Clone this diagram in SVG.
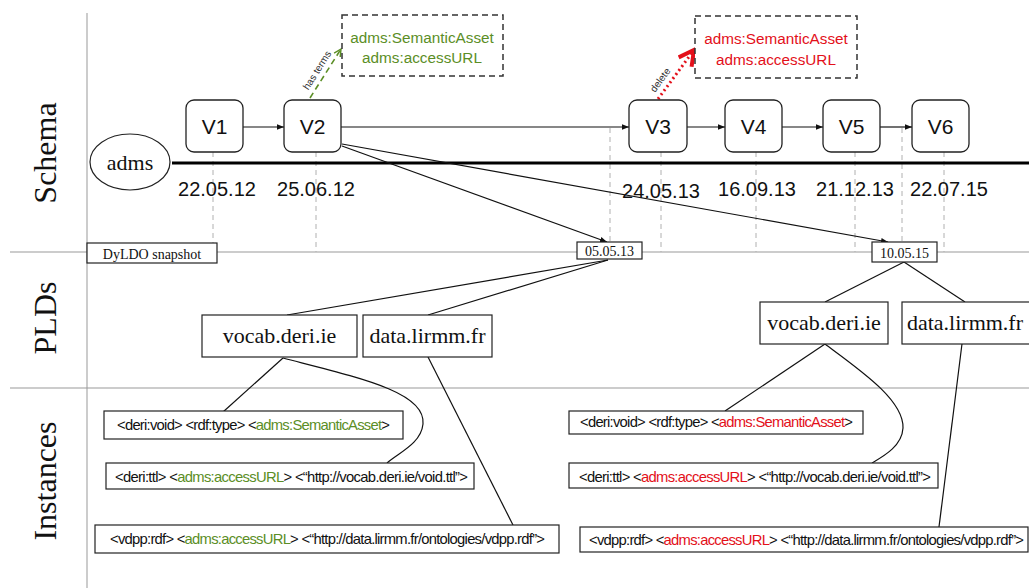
<svg xmlns="http://www.w3.org/2000/svg" width="1029" height="588" viewBox="0 0 1029 588">
  <defs>
    <style>
      .lane { font-family: "Liberation Serif", "Times New Roman", serif; font-size: 32px; fill: #111; text-anchor: middle; }
      .grid { stroke: #999; stroke-width: 1; fill: none; }
      .guide { stroke: #b0b0b0; stroke-width: 1; stroke-dasharray: 5 4; fill: none; }
      .ver rect { fill: #fff; stroke: #222; stroke-width: 1.3; }
      .ver text { font-family: "Liberation Sans", Arial, sans-serif; font-size: 21px; fill: #111; text-anchor: middle; }
      .date { font-family: "Liberation Sans", Arial, sans-serif; font-size: 20px; fill: #111; text-anchor: middle; }
      .snap rect { fill: #fff; stroke: #222; stroke-width: 1.2; }
      .snap text { font-family: "Liberation Serif", "Times New Roman", serif; font-size: 14px; fill: #111; text-anchor: middle; }
      .pld rect { fill: #fff; stroke: #222; stroke-width: 1.2; }
      .pld text { font-family: "Liberation Serif", "Times New Roman", serif; font-size: 22px; fill: #111; text-anchor: middle; }
      .inst rect { fill: #fff; stroke: #222; stroke-width: 1.2; }
      .inst text { font-family: "Liberation Sans", Arial, sans-serif; font-size: 14.8px; fill: #111; }
      .term rect { fill: #fff; stroke: #333; stroke-width: 1.5; stroke-dasharray: 6 4; }
      .term text { font-family: "Liberation Sans", Arial, sans-serif; font-size: 15.3px; text-anchor: middle; }
      .g { fill: #5b8e26; }
      .r { fill: #e3101a; }
      .link { stroke: #111; stroke-width: 1.2; fill: none; }
      .small { font-family: "Liberation Sans", Arial, sans-serif; font-size: 10px; fill: #333; text-anchor: middle; }
    </style>
    <marker id="arrow" viewBox="0 0 10 10" refX="10" refY="5" markerWidth="7" markerHeight="7" markerUnits="userSpaceOnUse" orient="auto">
      <path d="M0,1 L10,5 L0,9 Z" fill="#111"/>
    </marker>
    <marker id="arrowGreen" viewBox="0 0 10 10" refX="9" refY="5" markerWidth="9" markerHeight="9" markerUnits="userSpaceOnUse" orient="auto">
      <path d="M1,1 L9,5 L1,9" fill="none" stroke="#5b8e26" stroke-width="1.6"/>
    </marker>
    <marker id="arrowRed" viewBox="0 0 20 20" refX="17" refY="10" markerWidth="20" markerHeight="20" markerUnits="userSpaceOnUse" orient="auto">
      <path d="M2,2 L17,10 L2,18" fill="none" stroke="#e3101a" stroke-width="4"/>
    </marker>
  </defs>

  <rect width="1029" height="588" fill="#fff"/>

  <!-- swimlane frame -->
  <g id="lanes">
    <line class="grid" x1="87" y1="13" x2="87" y2="588"/>
    <line class="grid" x1="10" y1="252" x2="1029" y2="252"/>
    <line class="grid" x1="10" y1="388" x2="1029" y2="388"/>
    <text class="lane" transform="translate(56,153) rotate(-90)">Schema</text>
    <text class="lane" transform="translate(56,318) rotate(-90)">PLDs</text>
    <text class="lane" transform="translate(56,481) rotate(-90)">Instances</text>
  </g>

  <!-- dashed date guides -->
  <g id="guides">
    <line class="guide" x1="213" y1="152" x2="213" y2="252"/>
    <line class="guide" x1="316" y1="152" x2="316" y2="252"/>
    <line class="guide" x1="610" y1="128" x2="610" y2="242"/>
    <line class="guide" x1="661" y1="152" x2="661" y2="252"/>
    <line class="guide" x1="756" y1="152" x2="756" y2="252"/>
    <line class="guide" x1="855" y1="152" x2="855" y2="252"/>
    <line class="guide" x1="902" y1="128" x2="902" y2="242"/>
    <line class="guide" x1="944" y1="152" x2="944" y2="252"/>
  </g>

  <!-- timeline -->
  <g id="timeline">
    <line x1="172" y1="163" x2="1029" y2="163" stroke="#000" stroke-width="3.2"/>
    <text class="date" x="217" y="196">22.05.12</text>
    <text class="date" x="316" y="196">25.06.12</text>
    <text class="date" x="661" y="198">24.05.13</text>
    <text class="date" x="757" y="196">16.09.13</text>
    <text class="date" x="855" y="196">21.12.13</text>
    <text class="date" x="949" y="196">22.07.15</text>
  </g>

  <g id="adms">
    <ellipse cx="130" cy="162" rx="40" ry="28" fill="#fff" stroke="#222" stroke-width="1.2"/>
    <text x="130" y="170" font-family="Liberation Serif, Times New Roman, serif" font-size="22" text-anchor="middle" fill="#111">adms</text>
  </g>

  <!-- connectors -->
  <g id="connectors">
    <line class="link" x1="243" y1="127" x2="284" y2="127" marker-end="url(#arrow)"/>
    <line class="link" x1="341" y1="127" x2="629" y2="127" marker-end="url(#arrow)"/>
    <line class="link" x1="687" y1="127" x2="725" y2="127" marker-end="url(#arrow)"/>
    <line class="link" x1="782" y1="127" x2="823" y2="127" marker-end="url(#arrow)"/>
    <line class="link" x1="880" y1="127" x2="912" y2="127" marker-end="url(#arrow)"/>
    <line class="link" x1="342" y1="146" x2="607" y2="242" marker-end="url(#arrow)"/>
    <line class="link" x1="342" y1="144" x2="888" y2="242" marker-end="url(#arrow)"/>
    <line class="link" x1="608" y1="260" x2="287" y2="315"/>
    <line class="link" x1="608" y1="260" x2="428" y2="315"/>
    <line class="link" x1="904" y1="262" x2="825" y2="302"/>
    <line class="link" x1="904" y1="262" x2="965" y2="302"/>
    <line class="link" x1="283" y1="358" x2="223" y2="412"/>
    <path class="link" d="M283,358 C360,378 426,392 423,424 C421,444 398,453 387,463"/>
    <line class="link" x1="428" y1="357" x2="513" y2="525"/>
    <line class="link" x1="825" y1="344" x2="725" y2="411"/>
    <path class="link" d="M825,344 C860,370 904,400 903,428 C902,446 884,456 872,463"/>
    <line class="link" x1="962" y1="344" x2="939" y2="527"/>
    <line x1="310" y1="98" x2="341" y2="49" stroke="#5b8e26" stroke-width="1.6" stroke-dasharray="6 4" marker-end="url(#arrowGreen)"/>
    <text class="small" transform="translate(320,72) rotate(-58)">has terms</text>
    <line x1="658" y1="99" x2="694" y2="50" stroke="#e3101a" stroke-width="3" stroke-dasharray="2 3" marker-end="url(#arrowRed)"/>
    <text class="small" transform="translate(663,82) rotate(-54)">delete</text>
  </g>

  <!-- schema versions -->
  <g id="v1" class="ver"><rect x="186" y="100" width="57" height="52" rx="8"/><text x="214.5" y="134">V1</text></g>
  <g id="v2" class="ver"><rect x="284" y="100" width="57" height="52" rx="8"/><text x="312.5" y="134">V2</text></g>
  <g id="v3" class="ver"><rect x="629" y="100" width="58" height="52" rx="8"/><text x="658" y="134">V3</text></g>
  <g id="v4" class="ver"><rect x="725" y="100" width="57" height="52" rx="8"/><text x="753.5" y="134">V4</text></g>
  <g id="v5" class="ver"><rect x="823" y="100" width="57" height="52" rx="8"/><text x="851.5" y="134">V5</text></g>
  <g id="v6" class="ver"><rect x="912" y="100" width="57" height="52" rx="8"/><text x="940.5" y="134">V6</text></g>

  <!-- term boxes -->
  <g id="terms-added" class="term">
    <rect x="342" y="15" width="161" height="61"/>
    <text class="g" x="422" y="43">adms:SemanticAsset</text>
    <text class="g" x="422" y="63">adms:accessURL</text>
  </g>
  <g id="terms-deleted" class="term">
    <rect x="695" y="16" width="162" height="62"/>
    <text class="r" x="776" y="44">adms:SemanticAsset</text>
    <text class="r" x="776" y="65">adms:accessURL</text>
  </g>

  <!-- crawl snapshots -->
  <g id="snap-label" class="snap"><rect x="87" y="243" width="130" height="20"/><text x="152" y="259" font-size="15">DyLDO snapshot</text></g>
  <g id="snap-2013" class="snap"><rect x="577" y="242" width="65" height="17"/><text x="609.5" y="256">05.05.13</text></g>
  <g id="snap-2015" class="snap"><rect x="872" y="242" width="65" height="20"/><text x="904.5" y="258">10.05.15</text></g>

  <!-- pay-level domains -->
  <g id="pld-vocab-2013" class="pld"><rect x="202" y="315" width="155" height="42"/><text x="279.5" y="343">vocab.deri.ie</text></g>
  <g id="pld-lirmm-2013" class="pld"><rect x="363" y="315" width="129" height="42"/><text x="427.5" y="343">data.lirmm.fr</text></g>
  <g id="pld-vocab-2015" class="pld"><rect x="760" y="302" width="128" height="42"/><text x="824" y="330">vocab.deri.ie</text></g>
  <g id="pld-lirmm-2015" class="pld"><rect x="902" y="302" width="130" height="42"/><text x="965" y="330">data.lirmm.fr</text></g>

  <!-- instance triples, 2013 -->
  <g id="inst-a-2013" class="inst">
    <rect x="104" y="411" width="299" height="28"/>
    <text x="117" y="430" textLength="273" lengthAdjust="spacing">&lt;deri:void&gt; &lt;rdf:type&gt; &lt;<tspan class="g">adms:SemanticAsset</tspan>&gt;</text>
  </g>
  <g id="inst-b-2013" class="inst">
    <rect x="106" y="463" width="368" height="26"/>
    <text x="115" y="482" textLength="353" lengthAdjust="spacing">&lt;deri:ttl&gt; &lt;<tspan class="g">adms:accessURL</tspan>&gt; &lt;“http://vocab.deri.ie/void.ttl”&gt;</text>
  </g>
  <g id="inst-c-2013" class="inst">
    <rect x="95" y="525" width="464" height="28"/>
    <text x="110" y="544" textLength="435" lengthAdjust="spacing">&lt;vdpp:rdf&gt; &lt;<tspan class="g">adms:accessURL</tspan>&gt; &lt;“http://data.lirmm.fr/ontologies/vdpp.rdf”&gt;</text>
  </g>

  <!-- instance triples, 2015 -->
  <g id="inst-a-2015" class="inst">
    <rect x="569" y="411" width="294" height="23"/>
    <text x="580" y="427" textLength="273" lengthAdjust="spacing">&lt;deri:void&gt; &lt;rdf:type&gt; &lt;<tspan class="r">adms:SemanticAsset</tspan>&gt;</text>
  </g>
  <g id="inst-b-2015" class="inst">
    <rect x="569" y="463" width="369" height="25"/>
    <text x="579" y="482" textLength="352" lengthAdjust="spacing">&lt;deri:ttl&gt; &lt;<tspan class="r">adms:accessURL</tspan>&gt; &lt;“http://vocab.deri.ie/void.ttl”&gt;</text>
  </g>
  <g id="inst-c-2015" class="inst">
    <rect x="580" y="527" width="448" height="25"/>
    <text x="589" y="545" textLength="435" lengthAdjust="spacing">&lt;vdpp:rdf&gt; &lt;<tspan class="r">adms:accessURL</tspan>&gt; &lt;“http://data.lirmm.fr/ontologies/vdpp.rdf”&gt;</text>
  </g>
</svg>
